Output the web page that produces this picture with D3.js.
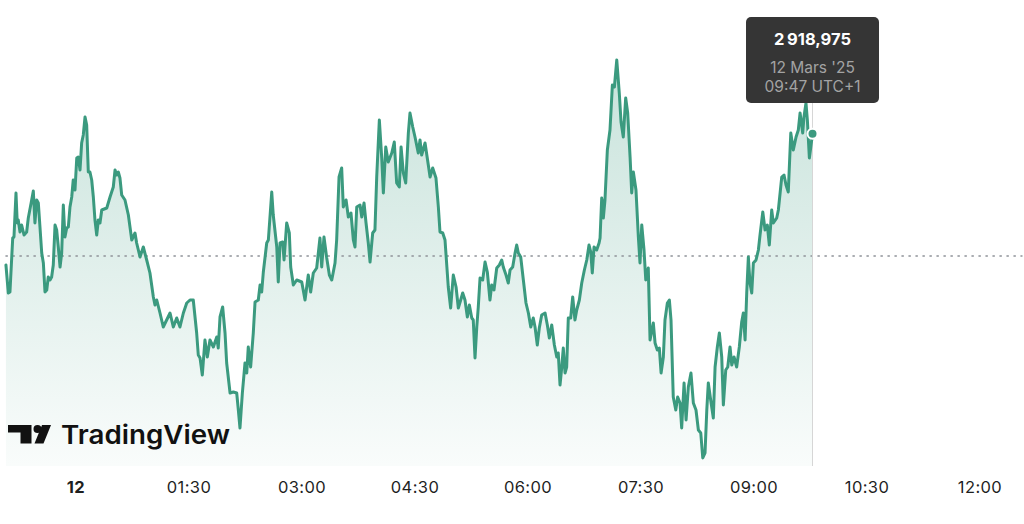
<!DOCTYPE html>
<html><head><meta charset="utf-8">
<script src="https://cdn.jsdelivr.net/npm/d3@7"></script>
<style>
html,body{margin:0;padding:0;background:#fff;}
svg{display:block;font-family:Inter,"Noto Sans",sans-serif;}
</style></head><body>
<svg id="chart" width="1024" height="524"></svg>
<script>
// minutes relative to 00:00 on 12 March (UTC+1), prices in USD
const minutes = [
-55.4,-53.5,-52.2,-50.0,-49.0,-47.4,-46.4,-45.6,-44.2,-42.9,-41.0,-38.9,-37.6,-34.9,-33.6,-32.3,-30.9,-29.6,-28.3,-26.9,
-25.6,-24.3,-22.9,-21.7,-20.3,-19.0,-17.7,-16.3,-15.0,-13.7,-12.3,-11.0,-9.7,-8.4,-7.0,-5.7,-4.4,-3.0,-1.8,-0.4,
1.0,2.2,3.6,4.9,6.2,7.6,8.9,10.2,11.5,12.9,14.2,15.5,16.9,18.2,19.5,20.9,24.9,27.5,30.1,31.5,
32.8,34.1,35.4,36.8,39.4,42.1,44.8,47.4,48.7,51.4,54.0,56.7,59.3,62.0,63.3,64.7,67.3,69.9,72.6,75.3,
77.9,80.6,83.2,85.9,88.6,91.2,93.8,96.5,97.8,99.2,101.0,103.1,105.0,107.1,109.8,112.5,113.7,115.1,117.2,119.1,
120.4,123.1,125.7,128.4,129.7,131.0,132.9,135.0,136.4,137.6,139.5,
141.6,143.0,145.6,147.0,148.3,149.6,152.3,153.6,156.3,157.5,160.3,161.5,162.9,165.0,166.1,168.2,170.3,171.4,173.5,176.2,
180.2,182.8,185.4,187.3,189.4,192.1,194.7,196.1,197.9,200.1,202.2,204.1,206.7,208.0,209.9,212.0,213.3,215.5,217.3,219.4,
221.3,222.6,224.0,226.6,228.0,229.8,231.4,233.2,234.6,236.7,238.5,239.9,242.0,243.9,245.2,247.1,249.1,251.9,253.9,255.8,
257.9,259.3,261.1,263.0,265.1,266.4,268.6,270.4,273.0,274.4,275.7,278.4,281.0,282.4,284.5,287.1,289.0,290.3,292.5,294.3,
296.9,298.8,300.9,303.1,304.9,306.8,308.4,310.2,312.1,313.7,315.6,316.8,318.2,319.6,320.8,322.2,324.3,326.2,328.0,330.1,
331.5,333.3,335.5,337.6,339.5,340.7,342.9,344.7,346.1,348.2,350.1,351.4,352.7,354.6,356.7,358.8,360.7,362.6,364.6,366.0,
367.8,369.4,371.3,374.0,375.8,377.4,379.3,381.4,383.3,384.5,385.9,387.3,388.5,389.9,391.2,392.5,394.4,396.0,397.8,399.2,
401.3,403.2,405.3,407.2,409.0,410.4,411.6,413.0,415.1,417.0,
417.8,419.1,420.4,421.7,423.6,425.7,427.6,429.2,431.1,433.1,434.5,436.3,438.2,439.8,441.7,443.0,444.3,446.4,448.3,449.6,
451.0,452.8,454.2,456.2,457.6,460.2,461.6,463.4,465.0,466.4,468.2,469.5,471.4,473.0,474.3,476.1,478.1,479.6,481.5,482.8,
484.7,486.3,488.1,490.2,492.1,494.2,496.1,498.0,499.6,501.4,502.8,504.0,505.9,508.0,509.4,511.2,512.8,514.7,516.0,517.9,
519.5,521.3,522.7,524.5,526.6,528.7,530.6,531.9,533.3,534.6,535.9,537.2,538.6,539.9,542.0,543.9,545.2,547.4,549.2,551.0,
552.6,554.5,555.8,558.5,559.8,562.5,564.3,565.9,567.7,569.7,571.7,573.9,575.7,577.1,579.2,580.2,581.8,582.9,584.5,587.0
];
const prices = [
2911.10,2909.42,2909.48,2912.72,2912.78,2915.42,2913.62,2913.80,2913.08,2913.50,2912.90,2913.08,2913.92,2915.00,2915.54,2913.62,2915.00,2914.82,2913.38,2911.82,
2911.22,2909.48,2909.60,2910.38,2910.20,2910.38,2911.10,2913.50,2913.20,2912.18,2910.98,2911.82,2914.70,2912.78,2913.32,2913.38,2914.58,2915.18,2916.20,2915.60,
2917.52,2917.58,2916.80,2918.42,2918.90,2919.98,2919.50,2916.68,2916.68,2916.20,2915.18,2913.80,2912.90,2913.80,2913.62,2914.40,2914.52,2915.18,2915.78,2916.80,
2916.50,2916.68,2916.32,2915.30,2915.00,2914.10,2912.60,2913.02,2912.42,2911.58,2912.18,2911.40,2910.62,2909.18,2908.70,2909.00,2908.22,2907.38,2907.80,2908.22,
2907.38,2907.92,2907.38,2908.22,2908.82,2909.00,2909.00,2907.02,2905.70,2905.52,2904.50,2906.60,2905.58,2906.60,2906.18,2906.78,2906.12,2907.98,2908.58,2907.02,
2905.22,2903.42,2903.48,2903.42,2902.40,2901.32,2903.42,2905.22,2904.62,2906.18,2904.98,
2907.02,2908.88,2909.00,2909.90,2909.48,2910.68,2912.42,2912.60,2915.48,2914.10,2912.18,2910.08,2912.42,2912.48,2911.40,2913.62,2913.02,2910.98,2909.90,2910.20,
2910.08,2909.00,2910.50,2909.48,2910.62,2910.92,2912.72,2910.98,2912.78,2911.52,2910.50,2910.20,2911.22,2912.60,2916.38,2916.92,2914.58,2915.00,2913.98,2914.22,
2912.60,2912.18,2914.58,2914.70,2913.98,2914.82,2913.62,2912.42,2911.28,2913.02,2913.20,2916.38,2919.80,2917.52,2915.42,2918.18,2917.28,2917.82,2918.48,2916.02,
2915.78,2918.18,2916.62,2916.02,2919.02,2920.22,2919.38,2918.78,2917.82,2918.60,2917.70,2918.42,2917.10,2916.38,2916.92,2916.32,2914.58,2913.08,2913.02,2912.60,
2909.78,2908.52,2910.50,2909.78,2908.52,2909.00,2909.42,2909.00,2907.98,2908.70,2907.92,2907.80,2905.52,2907.38,2908.58,2910.32,2910.20,2911.28,2910.68,2909.00,
2909.90,2909.60,2910.92,2911.10,2911.40,2910.98,2910.50,2910.02,2910.80,2910.98,2911.82,2912.30,2911.82,2911.58,2910.20,2908.82,2908.22,2907.38,2907.92,2907.38,
2906.30,2907.32,2908.10,2908.22,2907.50,2906.72,2907.50,2906.30,2905.58,2905.82,2903.90,2904.98,2906.12,2904.62,2904.98,2907.92,2907.92,2909.18,2907.80,2908.40,
2909.00,2910.02,2910.80,2911.40,2912.30,2911.88,2910.62,2912.18,2912.00,2912.42,
2912.72,2915.12,2913.92,2915.00,2918.00,2919.20,2921.90,2921.78,2923.40,2921.42,2919.68,2918.78,2921.12,2920.22,2917.58,2915.42,2916.68,2915.60,2912.78,2911.22,
2913.50,2912.00,2910.20,2910.92,2906.60,2907.62,2906.42,2906.00,2906.12,2904.62,2905.58,2907.80,2908.82,2909.00,2907.80,2903.18,2902.40,2903.18,2902.82,2901.32,
2904.02,2901.80,2903.78,2904.62,2902.82,2902.40,2901.20,2901.02,2899.52,2899.82,2902.40,2904.02,2903.00,2901.92,2904.98,2906.18,2907.02,2905.58,2902.70,2904.80,
2904.98,2906.18,2905.10,2905.58,2904.98,2906.18,2907.68,2908.22,2906.60,2909.42,2911.58,2910.02,2909.42,2911.22,2911.40,2912.00,2912.90,2914.28,2913.20,2913.50,
2912.30,2914.40,2913.62,2913.92,2914.40,2916.38,2916.50,2915.90,2915.48,2919.02,2918.00,2918.78,2919.20,2920.22,2919.02,2919.98,2920.82,2919.80,2917.52,2918.975
];
const tickMinutes = [0, 90, 180, 270, 360, 450, 540, 630, 720];
const tickLabels = ["12", "01:30", "03:00", "04:30", "06:00", "07:30", "09:00", "10:30", "12:00"];
const prevClose = 2911.64;
const priceTop = 2927.0;
const priceBottom = 2899.04;
const tipValue = "2\u202F918,975";
const tipDate = "12 Mars '25";
const tipTime = "09:47 UTC+1";
const brandName = "TradingView";

const lineColor = "#3b9a7f";
const svg = d3.select("#chart");
const plotBottom = 466;
const x = d3.scaleLinear().domain([0, 720]).range([75.5, 979.5]);
const y = d3.scaleLinear().domain([priceBottom, priceTop]).range([plotBottom, 0]);
const data = minutes.map((m, i) => ({ m, p: prices[i] }));
const last = data[data.length - 1];

const defs = svg.append("defs");
const grad = defs.append("linearGradient").attr("id", "fillGrad")
  .attr("gradientUnits", "userSpaceOnUse").attr("x1", 0).attr("x2", 0)
  .attr("y1", y(2923.4)).attr("y2", plotBottom);
grad.append("stop").attr("offset", "0").attr("stop-color", lineColor).attr("stop-opacity", 0.28);
grad.append("stop").attr("offset", "1").attr("stop-color", lineColor).attr("stop-opacity", 0.03);

// area fill
svg.append("path").datum(data)
  .attr("d", d3.area().x(d => x(d.m)).y0(plotBottom).y1(d => y(d.p)))
  .attr("fill", "url(#fillGrad)");

// previous close dotted line
svg.append("line")
  .attr("x1", x(minutes[0])).attr("x2", 1022)
  .attr("y1", y(prevClose)).attr("y2", y(prevClose))
  .attr("stroke", "#8f9299").attr("stroke-width", 1.4)
  .attr("stroke-dasharray", "1.4,5.6").attr("stroke-linecap", "round");

// crosshair
svg.append("line")
  .attr("x1", x(last.m)).attr("x2", x(last.m))
  .attr("y1", 20).attr("y2", plotBottom)
  .attr("stroke", "#d6d6d6").attr("stroke-width", 1);

// price line
svg.append("path").datum(data)
  .attr("d", d3.line().x(d => x(d.m)).y(d => y(d.p)))
  .attr("fill", "none").attr("stroke", lineColor)
  .attr("stroke-width", 3).attr("stroke-linejoin", "round").attr("stroke-linecap", "round");

// hover dot
svg.append("circle")
  .attr("cx", x(last.m)).attr("cy", y(last.p)).attr("r", 5)
  .attr("fill", lineColor).attr("stroke", "#fff").attr("stroke-width", 2);

// tooltip
const tip = svg.append("g").attr("transform", `translate(${x(last.m)},0)`);
tip.append("rect").attr("x", -66.5).attr("y", 17).attr("width", 133).attr("height", 86)
  .attr("rx", 5).attr("fill", "#353535");
tip.append("text").attr("x", 0).attr("y", 45).attr("text-anchor", "middle")
  .attr("fill", "#ffffff").attr("font-size", 16.5).attr("font-weight", 700).text(tipValue);
tip.append("text").attr("x", 0).attr("y", 73).attr("text-anchor", "middle")
  .attr("fill", "#a3a3a3").attr("font-size", 15.5).text(tipDate);
tip.append("text").attr("x", 0).attr("y", 92).attr("text-anchor", "middle")
  .attr("fill", "#a3a3a3").attr("font-size", 15.5).text(tipTime);

// x axis
const axis = svg.append("g").attr("transform", `translate(0,${plotBottom})`)
  .call(d3.axisBottom(x).tickValues(tickMinutes).tickFormat((d, i) => tickLabels[i]).tickSize(0).tickPadding(15.5));
axis.select(".domain").remove();
axis.selectAll("text")
  .attr("font-family", "Inter, 'Noto Sans', sans-serif")
  .attr("font-size", 16.5).attr("letter-spacing", 0.4).attr("fill", "#1f1f1f")
  .attr("font-weight", (d, i) => i === 0 ? 700 : 400);

// TradingView watermark
const logo = svg.append("g").attr("fill", "#111111");
logo.append("path").attr("d", "M8,425 H31.5 V443.5 H20.5 V432.5 H8 Z");
logo.append("circle").attr("cx", 37.5).attr("cy", 429).attr("r", 4);
logo.append("path").attr("d", "M42,425 H51 L43.5,443.5 H34.5 Z");
logo.append("text").attr("x", 61).attr("y", 443.5)
  .attr("font-size", 26).attr("font-weight", 600)
  .attr("textLength", 169).attr("lengthAdjust", "spacingAndGlyphs").text(brandName);
</script>
</body></html>
